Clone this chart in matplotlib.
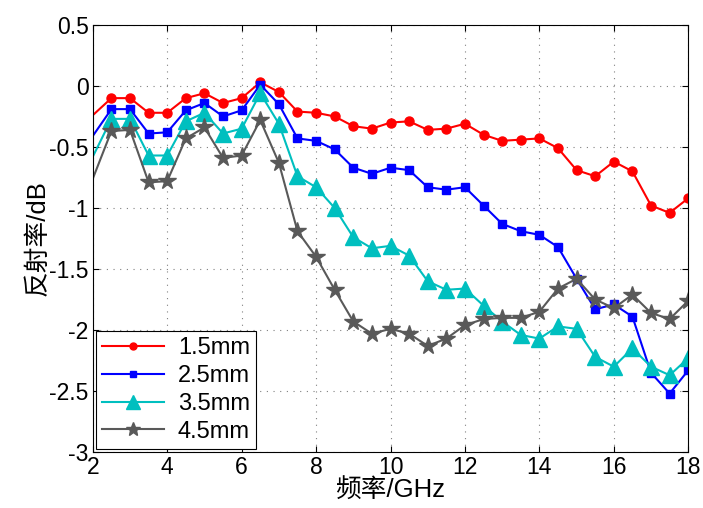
import numpy as np
import matplotlib
matplotlib.use("Agg")
import matplotlib.pyplot as plt

plt.rcParams['font.family'] = ['Liberation Sans', 'Noto Sans CJK SC', 'DejaVu Sans']
plt.rcParams['axes.unicode_minus'] = False

# 频率 (GHz), 0.5 步长
freq = np.arange(2.0, 18.01, 0.5)

r15 = [-0.24, -0.10, -0.10, -0.22, -0.22, -0.10, -0.06, -0.14, -0.10, 0.03, -0.05,
       -0.21, -0.22, -0.25, -0.33, -0.35, -0.30, -0.29, -0.36, -0.35, -0.31, -0.40,
       -0.45, -0.44, -0.43, -0.51, -0.69, -0.74, -0.62, -0.70, -0.98, -1.04, -0.92]
r25 = [-0.41, -0.19, -0.19, -0.39, -0.38, -0.20, -0.14, -0.25, -0.20, 0.01, -0.15,
       -0.43, -0.45, -0.52, -0.67, -0.72, -0.67, -0.69, -0.83, -0.85, -0.83, -0.98,
       -1.13, -1.19, -1.22, -1.32, -1.58, -1.83, -1.79, -1.89, -2.35, -2.52, -2.33]
r35 = [-0.58, -0.27, -0.27, -0.57, -0.57, -0.29, -0.22, -0.39, -0.35, -0.06, -0.31,
       -0.74, -0.83, -1.00, -1.24, -1.33, -1.31, -1.39, -1.60, -1.67, -1.66, -1.80,
       -1.93, -2.04, -2.07, -1.97, -1.99, -2.22, -2.30, -2.15, -2.30, -2.37, -2.23]
r45 = [-0.76, -0.37, -0.36, -0.79, -0.78, -0.43, -0.34, -0.59, -0.57, -0.28, -0.63,
       -1.19, -1.40, -1.67, -1.93, -2.03, -1.99, -2.03, -2.13, -2.07, -1.96, -1.91,
       -1.90, -1.90, -1.85, -1.66, -1.58, -1.75, -1.82, -1.71, -1.86, -1.91, -1.76]

labels = ['1.5mm', '2.5mm', '3.5mm', '4.5mm']

fig = plt.figure(figsize=(7.03, 5.08), dpi=100)
ax = fig.add_axes([0.132, 0.110, 0.847, 0.841])

me = slice(1, None)
ax.plot(freq, r15, '-o', color='#ff0000', lw=1.5, ms=6.5, markevery=me, label=labels[0])
ax.plot(freq, r25, '-s', color='#0000ff', lw=1.5, ms=6, markevery=me, label=labels[1])
ax.plot(freq, r35, '-^', color='#00bfbf', lw=1.5, ms=11, markevery=me, label=labels[2])
ax.plot(freq, r45, '-*', color='#595959', lw=1.5, ms=13, markevery=me, label=labels[3])

ax.set_xlim(2, 18)
ax.set_ylim(-3, 0.5)
ax.set_xticks(np.arange(2, 19, 2))
ax.set_yticks(np.arange(-3, 0.51, 0.5))
ax.set_yticklabels(['-3', '-2.5', '-2', '-1.5', '-1', '-0.5', '0', '0.5'])
ax.tick_params(direction='in', labelsize=16.5, length=4, top=True, right=True, pad=3)
ax.grid(True, linestyle=(0, (1, 5)), color='#808080', lw=0.8)

ax.set_xlabel('频率/GHz', fontsize=18.5, labelpad=-1)
ax.set_ylabel('反射率/dB', fontsize=18.5, labelpad=0)

leg = ax.legend(loc='lower left', fontsize=17, fancybox=False, framealpha=1,
                edgecolor='black', borderaxespad=0.15, handlelength=2.6,
                labelspacing=0.25, borderpad=0.25, handletextpad=0.6)
leg.get_frame().set_linewidth(0.8)
for h, s in zip(leg.legend_handles, [5, 5, 10, 10]):
    h.set_markersize(s)

fig.savefig('out.png', dpi=100)
